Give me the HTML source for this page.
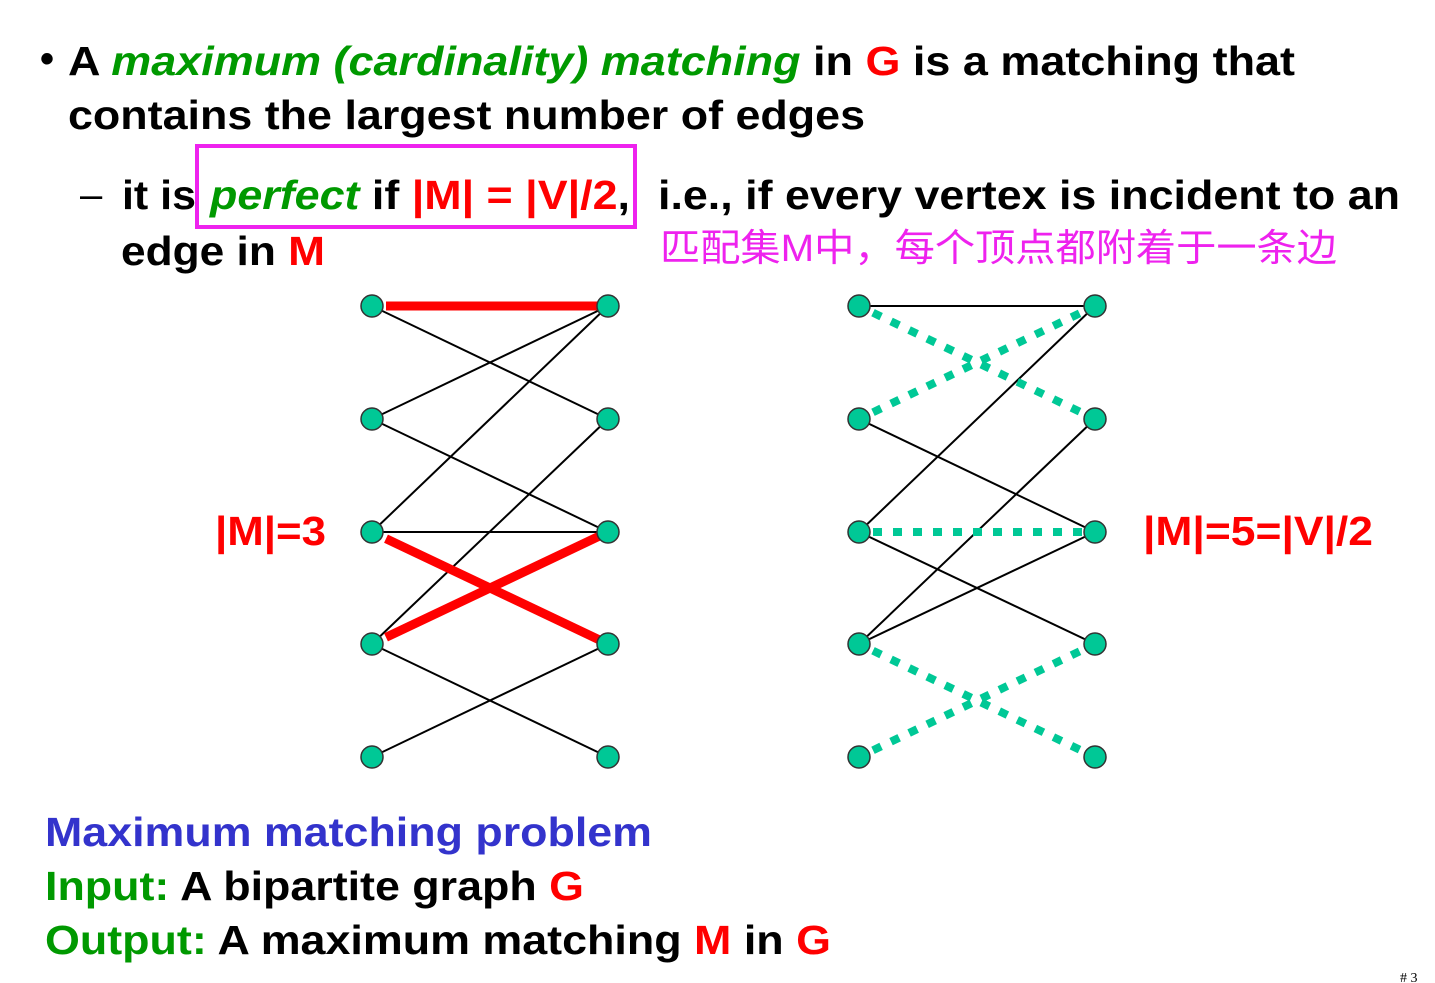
<!DOCTYPE html>
<html><head><meta charset="utf-8"><style>
html,body{margin:0;padding:0;background:#fff;}
svg{display:block;}
text{font-family:"Liberation Sans",Arial,sans-serif;font-weight:bold;}
</style></head><body>
<svg id="s" width="1435" height="983" viewBox="0 0 1435 983" xmlns="http://www.w3.org/2000/svg">
<text x="40" y="72" font-size="40">•</text>
<text x="68" y="75" font-size="41" textLength="1227" lengthAdjust="spacingAndGlyphs">A <tspan fill="#009900" font-style="italic">maximum (cardinality) matching</tspan> in <tspan fill="#ff0000">G</tspan> is a matching that</text>
<text x="68" y="129" font-size="41" textLength="797" lengthAdjust="spacingAndGlyphs">contains the largest number of edges</text>
<text x="80" y="208" font-size="40" style="font-weight:normal">–</text>
<text x="122" y="209" font-size="41" textLength="74" lengthAdjust="spacingAndGlyphs">it is</text>
<text x="210" y="209" font-size="41" textLength="420" lengthAdjust="spacingAndGlyphs"><tspan fill="#009900" font-style="italic">perfect</tspan> if <tspan fill="#ff0000">|M| = |V|/2</tspan>,</text>
<text x="658" y="209" font-size="41" textLength="742" lengthAdjust="spacingAndGlyphs">i.e., if every vertex is incident to an</text>
<text x="121" y="265" font-size="41" textLength="204" lengthAdjust="spacingAndGlyphs">edge in <tspan fill="#ff0000">M</tspan></text>
<text x="660" y="261" font-size="38" fill="#ee22ee" textLength="677" lengthAdjust="spacingAndGlyphs" style="font-family:'Liberation Sans','Noto Sans CJK SC',sans-serif;font-weight:normal">匹配集M中，每个顶点都附着于一条边</text>
<rect x="197" y="146" width="438" height="81" fill="none" stroke="#ee22ee" stroke-width="4"/>
<text x="215" y="545" font-size="41" fill="#ff0000" textLength="111" lengthAdjust="spacingAndGlyphs">|M|=3</text>
<text x="1143" y="545" font-size="41" fill="#ff0000" textLength="230" lengthAdjust="spacingAndGlyphs">|M|=5=|V|/2</text>
<g id="g1"></g><g id="g2"></g>
<text x="45" y="846" font-size="41" fill="#3333cc" textLength="607" lengthAdjust="spacingAndGlyphs">Maximum matching problem</text>
<text x="45" y="900" font-size="41" textLength="539" lengthAdjust="spacingAndGlyphs"><tspan fill="#009900">Input:</tspan> A bipartite graph <tspan fill="#ff0000">G</tspan></text>
<text x="45" y="954" font-size="41" textLength="786" lengthAdjust="spacingAndGlyphs"><tspan fill="#009900">Output:</tspan> A maximum matching <tspan fill="#ff0000">M</tspan> in <tspan fill="#ff0000">G</tspan></text>
<text x="1400" y="982" font-size="14" style="font-family:'Liberation Serif',serif;font-weight:normal"># 3</text>
</svg>
<script>
const rowsY = [306, 419, 532, 644, 757];
const g1Black = [[0,1],[1,0],[1,2],[2,0],[2,2],[3,1],[3,4],[4,3]];
const g1Match = [[0,0],[2,3],[3,2]];
const g2Black = [[0,0],[1,2],[2,0],[2,3],[3,1],[3,2]];
const g2Match = [[0,1],[1,0],[2,2],[3,4],[4,3]];
const NS = "http://www.w3.org/2000/svg";
function line(g, x1, y1, x2, y2, color, w, dash, name) {
  const l = document.createElementNS(NS, "line");
  l.setAttribute("x1", x1); l.setAttribute("y1", y1);
  l.setAttribute("x2", x2); l.setAttribute("y2", y2);
  l.setAttribute("stroke", color); l.setAttribute("stroke-width", w);
  if (dash) l.setAttribute("stroke-dasharray", dash);
  
  
  g.appendChild(l);
}
function draw(gid, lx, rx, black, match, mColor, mW, mDash, mName) {
  const g = document.getElementById(gid);
  black.forEach(e => line(g, lx, rowsY[e[0]], rx, rowsY[e[1]], "#000", 2, null, "edge"));
  match.forEach(e => {
    const a = lx + 14, b = rx - 6;
    const y1 = rowsY[e[0]], y2 = rowsY[e[1]];
    line(g, a, y1 + (y2 - y1) * 14 / (rx - lx), b, y2 - (y2 - y1) * 6 / (rx - lx), mColor, mW, mDash, mName);
  });
  [lx, rx].forEach(x => rowsY.forEach(y => {
    const c = document.createElementNS(NS, "circle");
    c.setAttribute("cx", x); c.setAttribute("cy", y); c.setAttribute("r", 11);
    c.setAttribute("fill", "#00c896"); c.setAttribute("stroke", "#333"); c.setAttribute("stroke-width", 1.5);
    
    
    g.appendChild(c);
  }));
}
draw("g1", 372, 608, g1Black, g1Match, "#ff0000", 9, null, "matching-edge");
draw("g2", 859, 1095, g2Black, g2Match, "#00c896", 8, "9 11", "perfect-matching-edge");
</script>
</body></html>
